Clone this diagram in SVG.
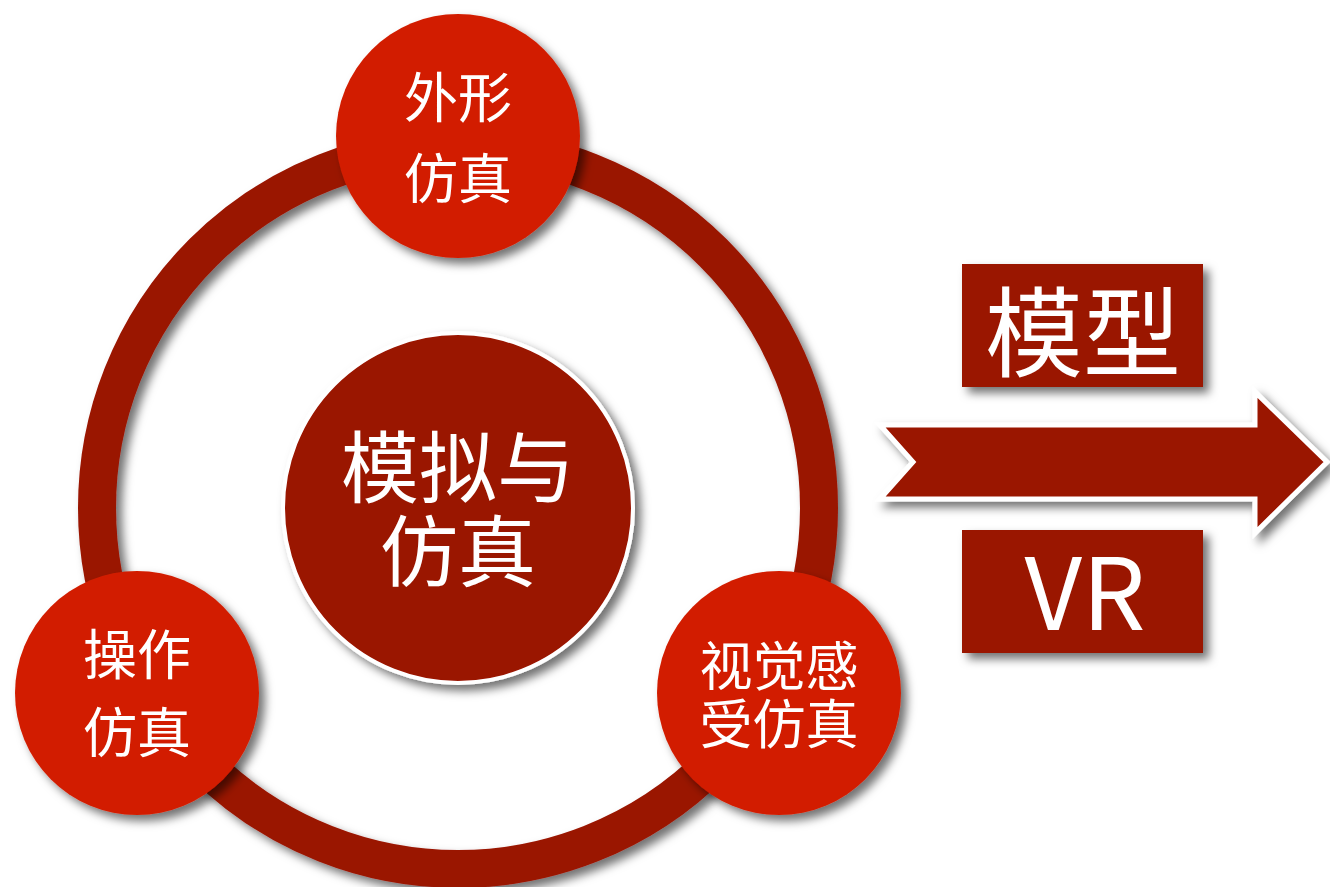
<svg xmlns="http://www.w3.org/2000/svg" width="1330" height="887" viewBox="0 0 1330 887">
  <defs>
    <filter id="sh" x="-20%" y="-20%" width="150%" height="150%">
      <feDropShadow dx="6" dy="6" stdDeviation="5" flood-color="#000" flood-opacity="0.55"/>
    </filter>
    <style>
      .dark { fill: #9a1400; }
      .bright { fill: #d21e00; }
      .lbl { fill: #fff; font-family: "Noto Sans CJK SC", "Noto Sans", sans-serif; text-anchor: middle; }
    </style>
  </defs>
  <rect width="1330" height="887" fill="#fff"/>
  <g id="connectors">
    <circle cx="458" cy="508" r="361" fill="none" stroke="#9a1400" stroke-width="38" filter="url(#sh)"/>
    <path id="arrow" d="M880,425 L1255,425 L1255,392 L1327,462 L1255,533 L1255,499 L880,499 L913,462 Z" class="dark" stroke="#fff" stroke-width="5" stroke-linejoin="miter" filter="url(#sh)"/>
  </g>
  <g id="center">
    <circle cx="458" cy="508" r="175" class="dark" stroke="#fff" stroke-width="4" filter="url(#sh)"/>
    <text class="lbl" font-size="78"><tspan x="458" y="497">模拟与</tspan><tspan x="458" y="581">仿真</tspan></text>
  </g>
  <g id="top">
    <circle cx="458" cy="136" r="122" class="bright" filter="url(#sh)"/>
    <text class="lbl" font-size="54"><tspan x="458" y="118">外形</tspan><tspan x="458" y="199">仿真</tspan></text>
  </g>
  <g id="left">
    <circle cx="137" cy="693" r="122" class="bright" filter="url(#sh)"/>
    <text class="lbl" font-size="54"><tspan x="137" y="675">操作</tspan><tspan x="137" y="753">仿真</tspan></text>
  </g>
  <g id="right">
    <circle cx="779" cy="693" r="122" class="bright" filter="url(#sh)"/>
    <text class="lbl" font-size="53"><tspan x="779" y="686">视觉感</tspan><tspan x="779" y="744">受仿真</tspan></text>
  </g>
  <g id="model">
    <rect x="962" y="264" width="241" height="123" class="dark" filter="url(#sh)"/>
    <text class="lbl" x="1083" y="369" font-size="98">模型</text>
  </g>
  <g id="vr">
    <rect x="962" y="530" width="241" height="123" class="dark" filter="url(#sh)"/>
    <text class="lbl" x="1085" y="630" font-size="100" font-family="'Open Sans', 'Noto Sans', sans-serif">VR</text>
  </g>
</svg>
